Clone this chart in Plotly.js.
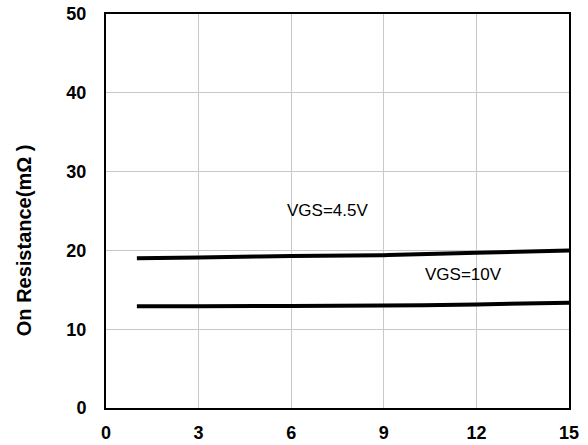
<!DOCTYPE html>
<html>
<head>
<meta charset="utf-8">
<script src="https://cdn.plot.ly/plotly-3.0.1.min.js"></script>
<style>html,body{margin:0;padding:0;background:#fff;}#chart{width:588px;height:445px;}</style>
</head>
<body>
<div id="chart"></div>
<script>
const xVgs45 = [1, 3, 6, 9, 12, 15];
const yVgs45 = [19.0, 19.1, 19.3, 19.4, 19.7, 20.0];
const xVgs10 = [1, 3, 6, 9, 12, 15];
const yVgs10 = [12.9, 12.92, 12.95, 13.0, 13.15, 13.35];
const xTicks = [0, 3, 6, 9, 12, 15];
const yTicks = [0, 10, 20, 30, 40, 50];
const labels = ["VGS=4.5V", "VGS=10V"];
const yTitle = "On Resistance(mΩ )";

const traces = [
  {x: xVgs45, y: yVgs45, mode: 'lines', line: {color: '#000', width: 4, shape: 'spline'}, showlegend: false, hoverinfo: 'skip'},
  {x: xVgs10, y: yVgs10, mode: 'lines', line: {color: '#000', width: 4, shape: 'spline'}, showlegend: false, hoverinfo: 'skip'}
];

const FONT = 'Liberation Sans, Arial, sans-serif';
const axisCommon = {
  showline: true, linecolor: '#000', linewidth: 2, mirror: true,
  showgrid: true, gridcolor: '#c8c8c8', gridwidth: 1,
  zeroline: false, ticks: '',
  tickfont: {family: FONT, size: 18, color: '#000', weight: 'bold'}
};

const layout = {
  width: 588, height: 445,
  margin: {l: 106, r: 19, t: 14, b: 37},
  paper_bgcolor: '#fff', plot_bgcolor: '#fff',
  xaxis: Object.assign({}, axisCommon, {range: [0, 15], tickvals: xTicks, ticktext: xTicks.map(String), ticklabelstandoff: 7}),
  yaxis: Object.assign({}, axisCommon, {range: [0, 50], tickvals: yTicks, ticktext: yTicks.map(String), ticklabelstandoff: 14}),
  annotations: [
    {x: 7.19, y: 25.1, text: labels[0], showarrow: false, font: {family: FONT, size: 17, color: '#000'}},
    {x: 11.59, y: 16.9, text: labels[1], showarrow: false, font: {family: FONT, size: 17, color: '#000'}},
    {xref: 'paper', yref: 'paper', x: -0.177, y: 0.426, xanchor: 'center', yanchor: 'middle', textangle: -90,
     text: yTitle, showarrow: false, font: {family: FONT, size: 20, color: '#000', weight: 'bold'}}
  ]
};

Plotly.newPlot('chart', traces, layout, {displayModeBar: false, staticPlot: true});
</script>
</body>
</html>
